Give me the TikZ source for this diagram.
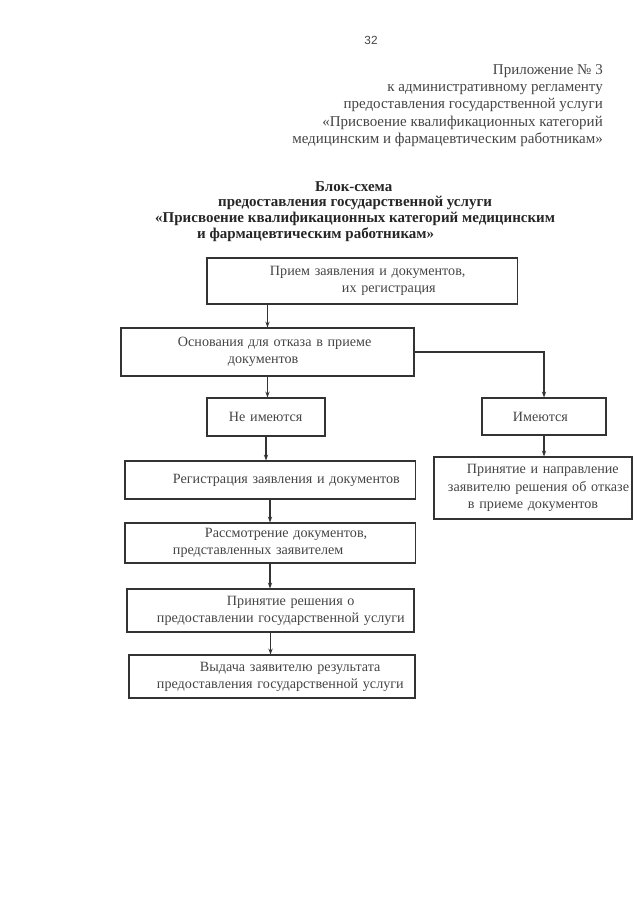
\documentclass[tikz,border=0pt]{standalone}
\usepackage{fontspec}
\setmainfont{Liberation Serif}
\newfontfamily\pagenofont{Liberation Sans}
\usetikzlibrary{arrows.meta, positioning}
\definecolor{inkgray}{HTML}{333333}
\definecolor{textgray}{HTML}{444444}
\newdimen\pxunit \pxunit=0.0328125cm
% one line of a box: indent (in px), then text kept unbroken
\newcommand{\bline}[2]{\hspace*{#1\pxunit}\mbox{#2}}
\tikzstyle{stage} = [rectangle, draw=inkgray, line width=1pt, inner sep=0pt, align=left, text=textgray, font=\fontsize{13.2}{16}\selectfont]
\tikzstyle{arrow} = [line width=1pt, draw=inkgray, -{Stealth[length=5.5pt,width=4pt]}]

\begin{document}
\begin{tikzpicture}[x=0.0328125cm, y=-0.0328125cm]
    \useasboundingbox (0,0) rectangle (640,905);
    \node (pageno) at (371,40) [font=\pagenofont\fontsize{11}{13}\selectfont, text=textgray] {32};
    \node (annex) [anchor=north east, inner sep=0pt, align=right, text=textgray, font=\fontsize{14}{16.2}\selectfont] at (603,64)
        {Приложение № 3\\к административному регламенту\\предоставления государственной услуги\\«Присвоение квалификационных категорий\\медицинским и фармацевтическим работникам»};
    \node (title) [anchor=north west, inner sep=0pt, align=left, text=black!85, font=\bfseries\fontsize{14}{14.8}\selectfont] at (155,181)
        {\bline{160}{Блок-схема}\\\bline{63}{предоставления государственной услуги}\\\bline{0}{«Присвоение квалификационных категорий медицинским}\\\bline{42}{и фармацевтическим работникам»}};

    \node (rec) [stage, text width=10.172cm, minimum height=1.509cm] at (362,281) {\bline{63}{Прием заявления и документов,}\\\bline{135}{их регистрация}};
    \node (osn) [stage, text width=9.614cm, minimum height=1.575cm] at (267.5,352) {\bline{57}{Основания для отказа в приеме}\\\bline{107}{документов}};
    \node (net) [stage, text width=3.872cm, minimum height=1.247cm] at (266,417) {\bline{22}{Не имеются}};
    \node (est) [stage, text width=4.069cm, minimum height=1.214cm] at (544,416.5) {\bline{31}{Имеются}};
    \node (reg) [stage, text width=9.516cm, minimum height=1.247cm] at (270,480) {\bline{48}{Регистрация заявления и документов}};
    \node (otk) [stage, text width=6.497cm, minimum height=2.034cm] at (533,488) {\bline{33}{Принятие и направление}\\\bline{14}{заявителю решения об отказе}\\\bline{34}{в приеме документов}};
    \node (ras) [stage, text width=9.516cm, minimum height=1.3125cm] at (270,543) {\bline{80}{Рассмотрение документов,}\\\bline{48}{представленных заявителем}};
    \node (resh) [stage, text width=9.417cm, minimum height=1.411cm] at (270.5,610.5) {\bline{100}{Принятие решения о}\\\bline{30}{предоставлении государственной услуги}};
    \node (vyd) [stage, text width=9.384cm, minimum height=1.411cm] at (272,676.5) {\bline{71}{Выдача заявителю результата}\\\bline{28}{предоставления государственной услуги}};

    \draw [arrow] (rec.south -| osn.north) -- (osn.north);
    \draw [arrow] (osn.south) -- (osn.south |- net.north);
    \draw [arrow] (osn.east) -| (est.north);
    \draw [arrow] (net.south) -- (net.south |- reg.north);
    \draw [arrow] (est.south) -- (est.south |- otk.north);
    \draw [arrow] (reg.south) -- (reg.south |- ras.north);
    \draw [arrow] (ras.south) -- (ras.south |- resh.north);
    \draw [arrow] (resh.south) -- (resh.south |- vyd.north);
\end{tikzpicture}
\end{document}
